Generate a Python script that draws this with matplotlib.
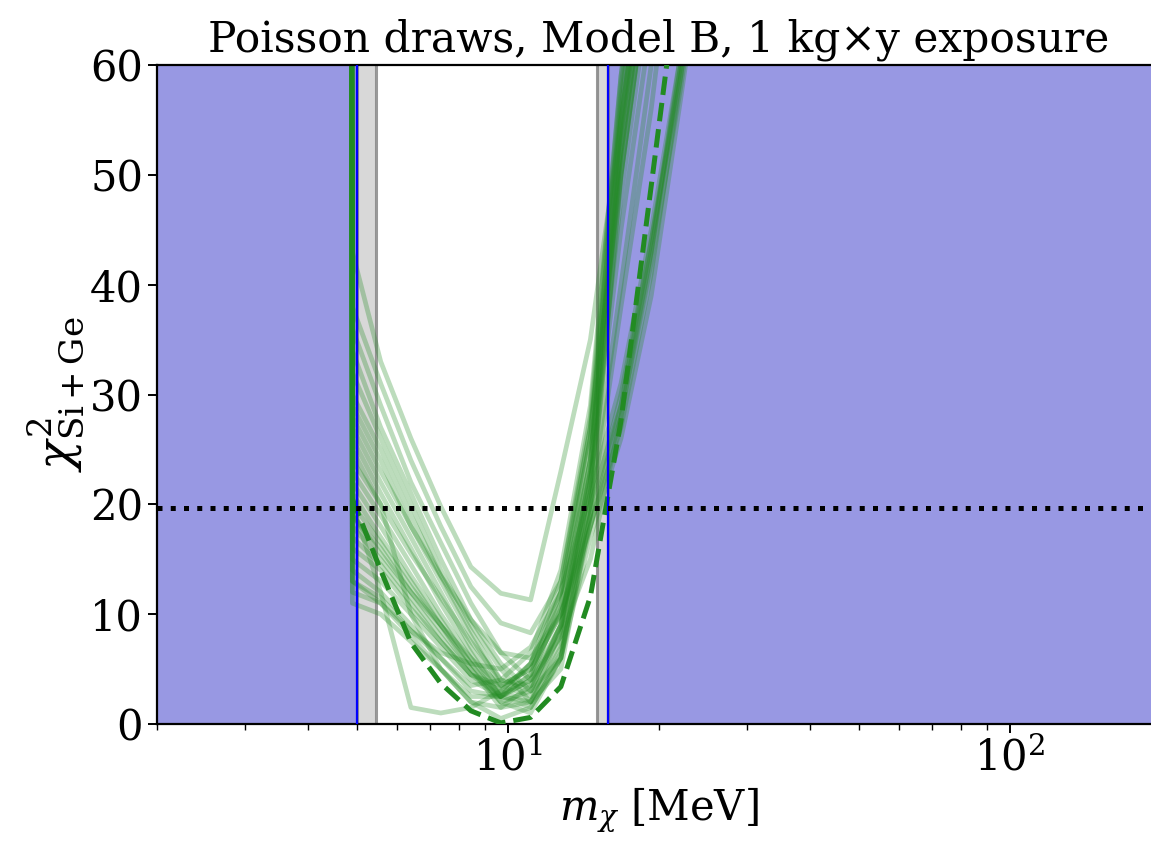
import matplotlib

matplotlib.use("Agg")
import matplotlib.pyplot as plt

# mass grid [MeV] on which the chi^2 scans were evaluated
masses = [4.5, 4.9, 5.58, 6.41, 7.35, 8.44, 9.68, 11.1, 12.75, 14.6, 16.8, 19.3, 22.1, 25.4]

# chi^2 of the Poisson draws (index 0 is far off-scale)
draws = [
    [1200, 43, 33, 26, 19.8, 14.3, 11.9, 11.3, 23, 35, 55, 75, 95, 120],
    [1200, 38, 31, 24, 18, 12.5, 9.2, 8.3, 13, 27, 50, 70, 92, 117],
    [1200, 36, 29, 22, 16.5, 11, 6.5, 4, 8, 22, 45, 64, 86, 110],
    [1200, 34, 27, 21, 15, 9.5, 5.5, 3, 6, 20, 40, 60, 82, 106],
    [1200, 32, 26, 20, 14, 9, 5, 2, 5, 19, 38, 56, 78, 102],
    [1200, 30, 25, 19, 13.5, 8.5, 4, 3, 9, 24, 53, 73, 95, 120],
    [1200, 29, 24, 18, 13, 8, 3.5, 2.5, 7.5, 22, 48, 68, 90, 115],
    [1200, 27, 22, 17, 12, 7, 3, 2, 6.5, 18, 27, 41, 59, 78],
    [1200, 26, 21, 16, 11, 6.5, 2.5, 1.5, 6, 17, 26, 39, 57, 76],
    [1200, 24, 20, 15.5, 11.5, 7.5, 4, 3.5, 8, 15, 28, 43, 61, 81],
    [1200, 23, 19, 14.5, 10, 6, 2.5, 2, 7, 21, 52, 72, 94, 119],
    [1200, 22, 18, 13.5, 9.5, 5.5, 2, 1, 6, 19, 50, 70, 92, 116],
    [1200, 21, 17, 13, 9, 5, 1.5, 2, 8.5, 23, 55, 75, 97, 121],
    [1200, 20, 16.5, 12.5, 9, 5.5, 2.5, 4, 11, 26, 57, 77, 99, 123],
    [1200, 19, 16, 12, 8.5, 5, 2, 3, 9, 23, 52, 72, 94, 118],
    [1200, 18, 15, 11.5, 8, 4.5, 2.5, 4.5, 12, 27, 58, 79, 101, 125],
    [1200, 17, 14.5, 11, 7.5, 4.5, 3, 5.5, 13, 28, 59, 80, 102, 127],
    [1200, 16, 14, 10.5, 7.5, 4.5, 3.5, 5, 10, 20, 29, 43, 60, 79],
    [1200, 15, 13, 10, 7, 4, 2.5, 4, 9, 18, 28, 42, 58, 77],
    [1200, 14, 12, 9, 6, 3, 2.5, 4.5, 10.5, 24, 54, 74, 96, 121],
    [1200, 13, 11.5, 8.5, 6, 3.5, 4, 6.5, 14, 29, 59, 81, 103, 129],
    [1200, 12, 11, 8, 5, 2, 1.5, 3.5, 9, 22, 53, 73, 95, 119],
    [1200, 11, 10, 7.5, 5, 2.5, 2.5, 5.5, 12, 26, 56, 76, 99, 123],
    [1200, 13, 11, 8.5, 6.5, 5.5, 5, 7, 12, 21, 31, 45, 61, 80],
    [1200, 19, 15.5, 12, 9, 6, 3.5, 5, 10, 19, 30, 44, 59, 78],
    [1200, 28, 23, 18, 13.5, 9.5, 6.5, 6, 10, 18, 29, 44, 60, 79],
    [1200, 20, 12, 1.5, 1, 1.5, 3, 5.5, 11, 24, 55, 75, 97, 122],
    [1200, 25, 20, 10, 5, 2, 0.5, 1.5, 6, 20, 50, 70, 92, 117],
]

# chi^2 of the Asimov (expected) data set
asimov_masses = [4.9, 5.58, 6.41, 7.35, 8.44, 9.68, 11.1, 12.75, 14.6, 16.8, 19.3, 22.1, 25.4]
asimov = [20.5, 14.0, 7.4, 3.7, 1.2, 0.1, 0.6, 3.4, 11.6, 27.6, 49, 70, 92]

threshold = 19.7
excluded_low = (2.0, 5.0)
excluded_high = (15.82, 200.0)
band_low = (5.0, 5.46)
band_high = (15.04, 15.82)

plt.rcParams.update(
    {
        "font.family": "DejaVu Serif",
        "mathtext.fontset": "dejavuserif",
        "axes.linewidth": 1.6,
    }
)

fig = plt.figure(figsize=(11.51, 8.42), dpi=100)
ax = fig.add_axes([157 / 1151, 118 / 842, 1004 / 1151, 659 / 842])

ax.axvspan(*excluded_low, color="#9898e3", lw=0, zorder=0)
ax.axvspan(*excluded_high, color="#9898e3", lw=0, zorder=0)
for lo, hi in (band_low, band_high):
    ax.axvspan(lo, hi, color="gray", alpha=0.3, lw=0, zorder=0)
    ax.axvline(lo, color="gray", lw=2.2, alpha=0.8, zorder=1)
    ax.axvline(hi, color="gray", lw=2.2, alpha=0.8, zorder=1)

for chi2 in draws:
    ax.plot(masses, chi2, color="forestgreen", lw=3.4, alpha=0.3, zorder=2)

ax.plot(asimov_masses, asimov, color="forestgreen", lw=3.6, ls="--", zorder=3)

ax.axvline(excluded_low[1], color="blue", lw=1.6, zorder=4)
ax.axvline(excluded_high[0], color="blue", lw=1.6, zorder=4)
ax.axhline(threshold, color="black", lw=3.6, ls=":", zorder=5)

ax.set_xscale("log")
ax.set_xlim(2, 200)
ax.set_ylim(0, 60)
ax.spines["right"].set_visible(False)
ax.tick_params(which="major", length=6.5, width=1.4, labelsize=30)
ax.tick_params(which="minor", length=4, width=1.0)
ax.set_xlabel(r"$m_\chi$ [MeV]", fontsize=30)
ax.set_ylabel(r"$\chi^2_{\rm Si+Ge}$", fontsize=35, labelpad=2)
ax.set_title("Poisson draws, Model B, 1 kg×y exposure", fontsize=30.5, pad=10)

fig.savefig("out.png")
